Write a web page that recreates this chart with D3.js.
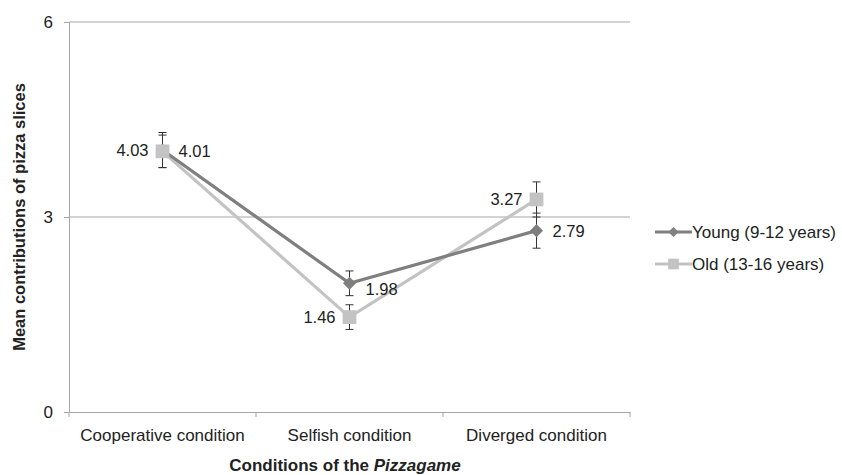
<!DOCTYPE html>
<html>
<head>
<meta charset="utf-8">
<script src="https://cdn.jsdelivr.net/npm/d3@7"></script>
<style>
  body { margin: 0; background: #fff; }
  svg text { font-family: "Liberation Sans", Arial, sans-serif; fill: #222; }
</style>
</head>
<body>
<svg id="chart" width="842" height="475"></svg>
<script>
// Conditions and mean contributions per age group
const conditions = ["Cooperative condition", "Selfish condition", "Diverged condition"];
const youngMeans = [4.03, 1.98, 2.79];
const oldMeans = [4.01, 1.46, 3.27];
const youngErr = [0.27, 0.19, 0.27];
const oldErr = [0.25, 0.19, 0.27];
const yTicks = [0, 3, 6];
const seriesNames = ["Young (9-12 years)", "Old (13-16 years)"];

// Which side of the marker each value label sits on
const youngLabelSide = ["left", "right", "right"];
const oldLabelSide = ["right", "left", "left"];

const svg = d3.select("#chart");
const m = { left: 69, right: 630, top: 22, bottom: 412 };
const font = "Liberation Sans, Arial, sans-serif";

const x = d3.scaleBand().domain(conditions).range([m.left, m.right]);
const y = d3.scaleLinear().domain([0, 6]).range([m.bottom, m.top]);

const axisColor = "#a6a6a6";

// Horizontal gridlines
svg.append("g").selectAll("line").data(yTicks.filter(t => t > 0)).join("line")
  .attr("x1", m.left).attr("x2", m.right)
  .attr("y1", d => y(d)).attr("y2", d => y(d))
  .attr("stroke", axisColor).attr("stroke-width", 1);

// Y axis
const yAxis = svg.append("g").attr("transform", `translate(${m.left},0)`)
  .call(d3.axisLeft(y).tickValues(yTicks).tickFormat(d3.format("d")).tickSize(5).tickPadding(11));
yAxis.select(".domain").attr("stroke", axisColor);
yAxis.selectAll(".tick line").attr("stroke", axisColor);
yAxis.selectAll(".tick text").attr("font-size", 17).attr("fill", "#222")
  .attr("font-family", font);

// X axis with ticks at band boundaries
const xAxis = svg.append("g").attr("transform", `translate(0,${m.bottom})`)
  .call(d3.axisBottom(x).tickSize(0).tickPadding(17));
xAxis.select(".domain").attr("stroke", axisColor);
xAxis.selectAll(".tick text").attr("font-size", 17).attr("fill", "#222")
  .attr("font-family", font);
const bounds = conditions.map(c => x(c)).concat([x(conditions[conditions.length - 1]) + x.bandwidth()]);
svg.append("g").selectAll("line").data(bounds).join("line")
  .attr("x1", d => d).attr("x2", d => d)
  .attr("y1", m.bottom).attr("y2", m.bottom + 5)
  .attr("stroke", axisColor);

// Axis titles
const xt = svg.append("text").attr("x", 345).attr("y", 471)
  .attr("text-anchor", "middle").attr("font-size", 17).attr("font-weight", "bold");
xt.append("tspan").text("Conditions of the ");
xt.append("tspan").attr("font-style", "italic").text("Pizzagame");

svg.append("text")
  .attr("transform", `translate(25,${(m.top + m.bottom) / 2}) rotate(-90)`)
  .attr("text-anchor", "middle").attr("font-size", 16.5).attr("font-weight", "bold")
  .text("Mean contributions of pizza slices");

const cx = c => x(c) + x.bandwidth() / 2;

const series = [
  { name: seriesNames[0], means: youngMeans, err: youngErr, color: "#7f7f7f", shape: d3.symbolDiamond2, size: 110, side: youngLabelSide },
  { name: seriesNames[1], means: oldMeans, err: oldErr, color: "#c3c3c3", shape: d3.symbolSquare, size: 190, side: oldLabelSide }
];

// Error bars
series.forEach(s => {
  const g = svg.append("g");
  conditions.forEach((c, i) => {
    const px = cx(c), lo = y(s.means[i] - s.err[i]), hi = y(s.means[i] + s.err[i]);
    g.append("line").attr("x1", px).attr("x2", px).attr("y1", lo).attr("y2", hi)
      .attr("stroke", "#333").attr("stroke-width", 1);
    [lo, hi].forEach(yy => g.append("line").attr("x1", px - 4).attr("x2", px + 4)
      .attr("y1", yy).attr("y2", yy).attr("stroke", "#333").attr("stroke-width", 1));
  });
});

// Lines and markers
const line = d3.line().x((d, i) => cx(conditions[i])).y(d => y(d));
series.slice().reverse().forEach(s => {
  svg.append("path").datum(s.means).attr("d", line)
    .attr("fill", "none").attr("stroke", s.color).attr("stroke-width", 3.2);
});
series.forEach(s => {
  svg.append("g").selectAll("path").data(s.means).join("path")
    .attr("transform", (d, i) => `translate(${cx(conditions[i])},${y(d)})`)
    .attr("d", d3.symbol().type(s.shape).size(s.size))
    .attr("fill", s.color);
});

// Value labels
series.forEach(s => {
  svg.append("g").selectAll("text").data(s.means).join("text")
    .attr("x", (d, i) => cx(conditions[i]) + (s.side[i] === "left" ? -14 : 16))
    .attr("y", (d, i) => y(d) + 6 + (s.side[i] === "right" && i === 1 ? 6 : 0))
    .attr("text-anchor", (d, i) => s.side[i] === "left" ? "end" : "start")
    .attr("font-size", 16.5)
    .text(d => d.toFixed(2));
});

// Legend
const lg = svg.append("g").attr("transform", "translate(655,232)");
series.forEach((s, i) => {
  const row = lg.append("g").attr("transform", `translate(0,${i * 32})`);
  row.append("line").attr("x1", 0).attr("x2", 37).attr("stroke", s.color).attr("stroke-width", 3);
  row.append("path").attr("transform", "translate(18.5,0)")
    .attr("d", d3.symbol().type(s.shape).size(s.size * 0.6)).attr("fill", s.color);
  row.append("text").attr("x", 37).attr("y", 6).attr("font-size", 17).text(s.name);
});
</script>
</body>
</html>
